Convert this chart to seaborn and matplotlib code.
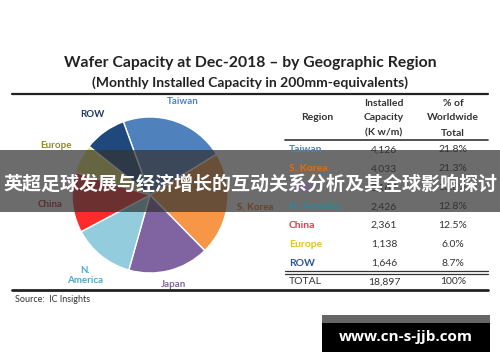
import matplotlib
matplotlib.use('Agg')
import matplotlib.pyplot as plt
import seaborn as sns
import numpy as np
from matplotlib.patches import Rectangle
from matplotlib.lines import Line2D

# data
regions = ['Taiwan', 'S. Korea', 'Japan', 'N. America', 'China', 'Europe', 'ROW']
pie_labels = ['Taiwan', 'S. Korea', 'Japan', 'N.\nAmerica', 'China', 'Europe', 'ROW']
capacity = [4126, 4033, 3167, 2426, 2361, 1138, 1646]
share = [21.8, 21.3, 16.8, 12.8, 12.5, 6.0, 8.7]
total_label = 'TOTAL'
total_share = '100%'

slice_colors = ['#4F81BD', '#F79646', '#8064A2', '#93CDDD', '#FF2A2A', '#E8E86A', '#1F497D']
label_colors = ['#4F81BD', '#E46C0A', '#8064A2', '#4BACC6', '#C0282D', '#8C8A20', '#1F3A66']
table_colors = ['#4F81BD', '#E46C0A', '#7A5A9E', '#31859C', '#E8384F', '#E2C21E', '#2E5597']
# how far out each pie label sits (in radii)
label_dist = [1.27, 1.36, 1.19, 1.33, 1.28, 1.36, 1.27]

sns.set_theme(style='white')
plt.rcParams['font.family'] = ['Lato', 'DejaVu Sans']

W, H = 500, 362
fig = plt.figure(figsize=(W / 100, H / 100), dpi=100)

def fx(x):
    return x / W

def fy(y):
    return 1 - y / H

# titles
fig.text(fx(250), fy(63), 'Wafer Capacity at Dec-2018 – by Geographic Region',
         ha='center', va='center', fontsize=11.3, weight='bold', color='#222222')
fig.text(fx(250), fy(83), '(Monthly Installed Capacity in 200mm-equivalents)',
         ha='center', va='center', fontsize=10, weight='bold', color='#222222')

# rules
fig.add_artist(Line2D([fx(12), fx(488)], [fy(94), fy(94)], color='#222222', lw=1.6))
fig.add_artist(Line2D([fx(12), fx(488)], [fy(290), fy(290)], color='#222222', lw=2))
fig.add_artist(Line2D([fx(285), fx(488)], [fy(140), fy(140)], color='#333333', lw=1.2))
fig.add_artist(Line2D([fx(285), fx(488)], [fy(271), fy(271)], color='#333333', lw=0.9))
fig.add_artist(Line2D([fx(285), fx(488)], [fy(274), fy(274)], color='#333333', lw=0.9))

# pie
r = 78
ax = fig.add_axes([fx(150 - r), fy(195 + r), 2 * r / W, 2 * r / H])
wedges, texts = ax.pie(capacity, labels=pie_labels, colors=slice_colors,
                       startangle=110, counterclock=False, labeldistance=1.3,
                       textprops={'fontsize': 7, 'weight': 'bold'})
for w, t, c, d in zip(wedges, texts, label_colors, label_dist):
    mid = np.deg2rad((w.theta1 + w.theta2) / 2)
    t.set_position((d * np.cos(mid), d * np.sin(mid)))
    t.set_color(c)
    t.set_ha('center')
    t.set_va('center')
    t.set_multialignment('center')
ax.set_xlim(-1, 1)
ax.set_ylim(-1, 1)
ax.set_aspect('equal')
ax.axis('off')

# table
hc = '#333333'
fig.text(fx(317), fy(118), 'Region', ha='center', va='center', fontsize=7.5, color=hc, weight='bold')
for i, line in enumerate(['Installed', 'Capacity', '(K w/m)']):
    fig.text(fx(384), fy(103 + 15 * i), line, ha='center', va='center', fontsize=7.5, color=hc, weight='bold')
for i, line in enumerate(['% of', 'Worldwide', 'Total']):
    fig.text(fx(453), fy(103 + 15 * i), line, ha='center', va='center', fontsize=7.5, color=hc, weight='bold')

for i, (reg, cap, sh, c) in enumerate(zip(regions, capacity, share, table_colors)):
    y = 150 + i * 18.9
    fig.text(fx(289), fy(y), reg, ha='left', va='center', fontsize=7.5, color=c, weight='bold')
    fig.text(fx(384), fy(y), f'{cap:,}', ha='center', va='center', fontsize=7.5, color='#333333')
    fig.text(fx(453), fy(y), f'{sh:.1f}%', ha='center', va='center', fontsize=7.5, color='#333333')

fig.text(fx(289), fy(282), total_label, ha='left', va='center', fontsize=7.5, color='#333333')
fig.text(fx(384), fy(282), f'{sum(capacity):,}', ha='center', va='center', fontsize=7.5, color='#333333')
fig.text(fx(453), fy(282), total_share, ha='center', va='center', fontsize=7.5, color='#333333')

fig.text(fx(15), fy(300), 'Source:  IC Insights', ha='left', va='center', fontsize=6.5, color='#333333')

# overlay banner
fig.add_artist(Rectangle((0, fy(212)), 1, (212 - 150) / H, transform=fig.transFigure,
                         facecolor='#333333', alpha=0.72, edgecolor='none'))
fig.text(fx(250), fy(184), '英超足球发展与经济增长的互动关系分析及其全球影响探讨',
         ha='center', va='center', fontsize=13.7, weight='bold', color='white',
         family=['Noto Sans CJK SC', 'DejaVu Sans'])

# watermark box
fig.add_artist(Rectangle((fx(322), fy(352)), (490 - 322) / W, (352 - 315) / H,
                         transform=fig.transFigure, facecolor='black', edgecolor='none'))
fig.add_artist(Rectangle((fx(322), fy(323)), (490 - 322) / W, (323 - 315) / H,
                         transform=fig.transFigure, facecolor='#666666', edgecolor='none'))
fig.text(fx(406), fy(337), 'www.cn-s-jjb.com', ha='center', va='center', fontsize=11,
         weight='bold', color='white', family=['Open Sans', 'DejaVu Sans'])

fig.savefig('out.png', dpi=100, facecolor='white')
